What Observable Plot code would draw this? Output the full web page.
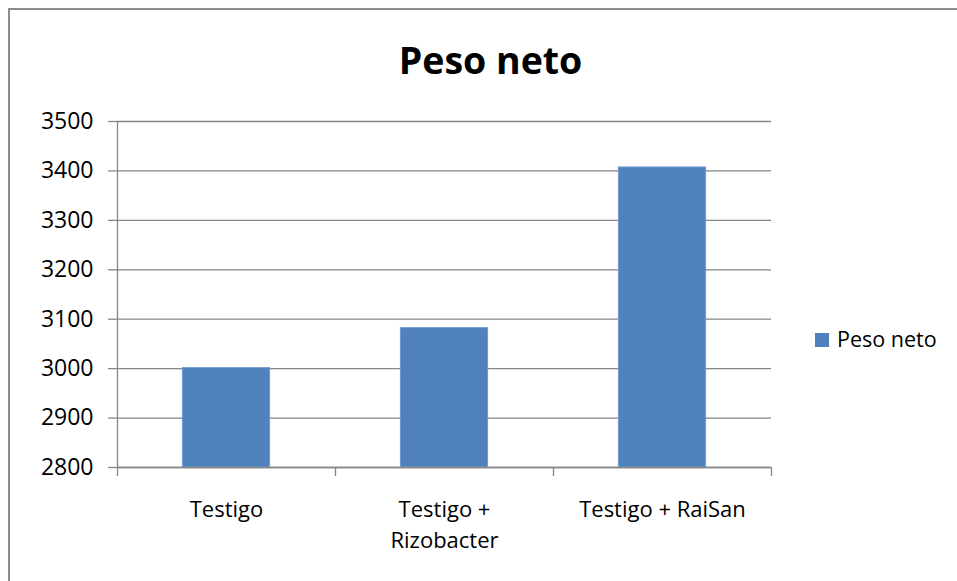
<!DOCTYPE html>
<html>
<head>
<meta charset="utf-8">
<script src="https://cdn.jsdelivr.net/npm/d3@7"></script>
<script src="https://cdn.jsdelivr.net/npm/@observablehq/plot@0.6"></script>
<style>
  html, body { margin: 0; padding: 0; background: #fff; }
  #wrap { position: relative; width: 957px; height: 581px; overflow: hidden; background: #fff; font-family: "Open Sans", sans-serif; }
  #frame { position: absolute; left: 8px; top: 8px; width: 1000px; height: 700px; border: 2px solid #8c8c8c; box-sizing: border-box; }
  #title { position: absolute; left: 12px; width: 957px; top: 41px; text-align: center; font-size: 37.5px; line-height: 37px; font-weight: bold; color: #000; }
  #chart { position: absolute; left: 0; top: 0; }
  #legend { position: absolute; left: 815px; top: 328px; height: 21px; font-size: 21.5px; line-height: 21px; color: #000; white-space: nowrap; }
  #legend .sw { position: absolute; left: 0; top: 5px; width: 14px; height: 14px; background: #4F81BD; }
  #legend .lt { position: absolute; left: 22px; top: 0; }
</style>
</head>
<body>
<div id="wrap">
  <div id="frame"></div>
  <div id="chart"></div>
  <div id="title"></div>
  <div id="legend"><span class="sw"></span><span class="lt"></span></div>
</div>
<script>
const chartTitle = "Peso neto";
const seriesName = "Peso neto";
const categories = ["Testigo", "Testigo + Rizobacter", "Testigo + RaiSan"];
const tickLabels = ["Testigo", "Testigo +\nRizobacter", "Testigo + RaiSan"];
const values = [3001, 3082, 3407];
const yTicks = [2800, 2900, 3000, 3100, 3200, 3300, 3400, 3500];

const data = categories.map((c, i) => ({ c, i, v: values[i], label: tickLabels[i] }));
const boundaries = d3.range(categories.length + 1);

const grid = "#868686";
const barColor = "#4F81BD";

const plot = Plot.plot({
  width: 957,
  height: 581,
  marginLeft: 117,
  marginRight: 186,
  marginTop: 121,
  marginBottom: 114,
  style: { fontFamily: "Open Sans", fontSize: "22px", background: "transparent", color: "#000" },
  x: { type: "linear", domain: [0, categories.length], axis: null },
  y: { domain: [yTicks[0], yTicks[yTicks.length - 1]], axis: null },
  marks: [
    Plot.ruleY(yTicks, { stroke: grid, strokeWidth: 1.3 }),
    Plot.rectY(data, { x1: d => d.i + 0.3, x2: d => d.i + 0.7, y1: yTicks[0], y2: "v", fill: barColor, stroke: "#6f9ad0", strokeWidth: 1 }),
    Plot.ruleX([0], { stroke: grid, strokeWidth: 1.3 }),
    Plot.ruleY([yTicks[0]], { stroke: grid, strokeWidth: 1.3 }),
    Plot.axisY({ ticks: yTicks, tickSize: 9, tickPadding: 15, stroke: grid, strokeWidth: 1.3, fill: "#000", tickFormat: d => String(d), label: null, fontSize: 23 }),
    Plot.axisX({ ticks: boundaries, tickSize: 9, stroke: grid, strokeWidth: 1.3, tickFormat: () => "", label: null }),
    Plot.text(data, { x: d => d.i + 0.5, y: yTicks[0], text: "label", lineAnchor: "top", dy: 28, lineHeight: 1.4, fontSize: 22, fill: "#000" })
  ]
});
document.getElementById("chart").appendChild(plot);
document.getElementById("title").textContent = chartTitle;
document.querySelector("#legend .lt").textContent = seriesName;
</script>
</body>
</html>
